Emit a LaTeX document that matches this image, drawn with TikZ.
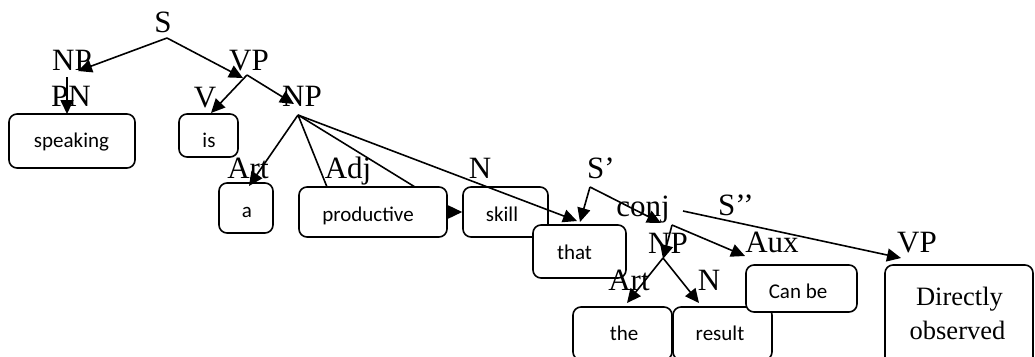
\documentclass[tikz,border=0pt]{standalone}
\usepackage{fontspec}
\setmainfont{Liberation Serif}
\newfontfamily\boxfont{Carlito}
\usetikzlibrary{arrows.meta}
\begin{document}
\begin{tikzpicture}[x=1pt,y=-1pt,
  wbox/.style={draw, line width=1.6pt, rounded corners=8pt, fill=white, inner sep=0pt},
  lbl/.style={font=\fontsize{31}{31}\selectfont, inner sep=0pt, anchor=base},
  word/.style={font=\boxfont\fontsize{21}{21}\selectfont, inner sep=0pt, anchor=base},
  sword/.style={font=\fontsize{26.5}{26.5}\selectfont, inner sep=0pt, anchor=base},
  edge/.style={line width=1.6pt},
  arr/.style={edge, -{Triangle[length=14pt,width=13pt]}}]
\useasboundingbox (0,0) rectangle (1035,356);
\clip (0,0) rectangle (1035,356);

% boxes
\node[wbox, minimum width=126pt, minimum height=54pt] (bspeaking) at (72,141) {};
\node[wbox, minimum width=59pt, minimum height=43pt] (bis) at (208.5,135.5) {};
\node[wbox, minimum width=54pt, minimum height=50pt] (ba) at (246,208) {};
\node[wbox, minimum width=148pt, minimum height=50pt] (bproductive) at (373,212) {};
\node[wbox, minimum width=85pt, minimum height=50pt] (bskill) at (505.5,212) {};
\node[wbox, minimum width=93pt, minimum height=53pt] (bthat) at (579.5,251.5) {};
\node[wbox, minimum width=99pt, minimum height=53pt] (bthe) at (622.5,333.5) {};
\node[wbox, minimum width=99pt, minimum height=53pt] (bresult) at (722.5,333.5) {};
\node[wbox, minimum width=111pt, minimum height=47pt] (bcanbe) at (801.5,288.5) {};
\node[wbox, minimum width=148pt, minimum height=105pt] (bdirect) at (959,317.5) {};

% box texts
\node[word] (tspeaking) at (71.5,147) {speaking};
\node[word] (tis) at (209,147) {is};
\node[word] (ta) at (247,217) {a};
\node[word] (tproductive) at (368,221) {productive};
\node[word] (tskill) at (502,221) {skill};
\node[word] (tthat) at (574.5,259) {that};
\node[word] (tthe) at (624,340) {the};
\node[word] (tresult) at (720,340) {result};
\node[word] (tcanbe) at (798,298) {Can be};
\node[sword] (tdirectly) at (959.5,305) {Directly};
\node[sword] (tobserved) at (957.5,339) {observed};

% labels
\node[lbl] (S) at (163,32) {S};
\node[lbl] (NPa) at (72,70) {NP};
\node[lbl] (PN) at (71,106) {PN};
\node[lbl] (VPa) at (249,70) {VP};
\node[lbl] (V) at (205,107) {V};
\node[lbl] (NPb) at (302,106) {NP};
\node[lbl] (Arta) at (248,178) {Art};
\node[lbl] (Adj) at (348,178) {Adj};
\node[lbl] (Na) at (480,178) {N};
\node[lbl] (Sp) at (601,178) {S’};
\node[lbl] (conj) at (643,216) {conj};
\node[lbl] (Spp) at (736,215) {S’’};
\node[lbl] (NPc) at (668,253) {NP};
\node[lbl] (Aux) at (772,252) {Aux};
\node[lbl] (VPb) at (917,252) {VP};
\node[lbl] (Artb) at (629,290) {Art};
\node[lbl] (Nb) at (709,290) {N};

% junction points
\coordinate (jS) at (167,38);
\coordinate (jNPa) at (67,77);
\coordinate (jVP) at (247,75);
\coordinate (jNPb) at (298,115);
\coordinate (jSp) at (590,187);
\coordinate (jconj) at (672,225);
\coordinate (jSpp) at (683,211);
\coordinate (jNPc) at (663,258);
% arrow targets
\coordinate (tNPa) at (78,71);
\coordinate (tVP) at (243,78);
\coordinate (tPN) at (67,114);
\coordinate (tV) at (211,113);
\coordinate (tNPb) at (294,104);
\coordinate (tArta) at (249,186);
\coordinate (tAdj1) at (327,187);
\coordinate (tAdj2) at (415,187);
\coordinate (tthatA) at (577,221);
\coordinate (tthatB) at (580,222);
\coordinate (tconj) at (661,223);
\coordinate (tNPc) at (663,259);
\coordinate (tAux) at (745,256);
\coordinate (tVPb) at (901,258);
\coordinate (tArtb) at (627,303);
\coordinate (tNb) at (699,303);

% connectors
\draw[arr] (jS) -- (tNPa);
\draw[arr] (jS) -- (tVP);
\draw[arr] (jNPa) -- (tPN);
\draw[arr] (jVP) -- (tV);
\draw[arr] (jVP) -- (tNPb);
\draw[arr] (jNPb) -- (tArta);
\draw[edge] (jNPb) -- (tAdj1);
\draw[edge] (jNPb) -- (tAdj2);
\draw[arr] (jNPb) -- (tthatA);
\draw[arr] (bproductive.east) -- (bskill.west);
\draw[arr] (jSp) -- (tthatB);
\draw[arr] (jSp) -- (tconj);
\draw[arr] (jconj) -- (tNPc);
\draw[arr] (jconj) -- (tAux);
\draw[arr] (jSpp) -- (tVPb);
\draw[arr] (jNPc) -- (tArtb);
\draw[arr] (jNPc) -- (tNb);
\end{tikzpicture}
\end{document}
